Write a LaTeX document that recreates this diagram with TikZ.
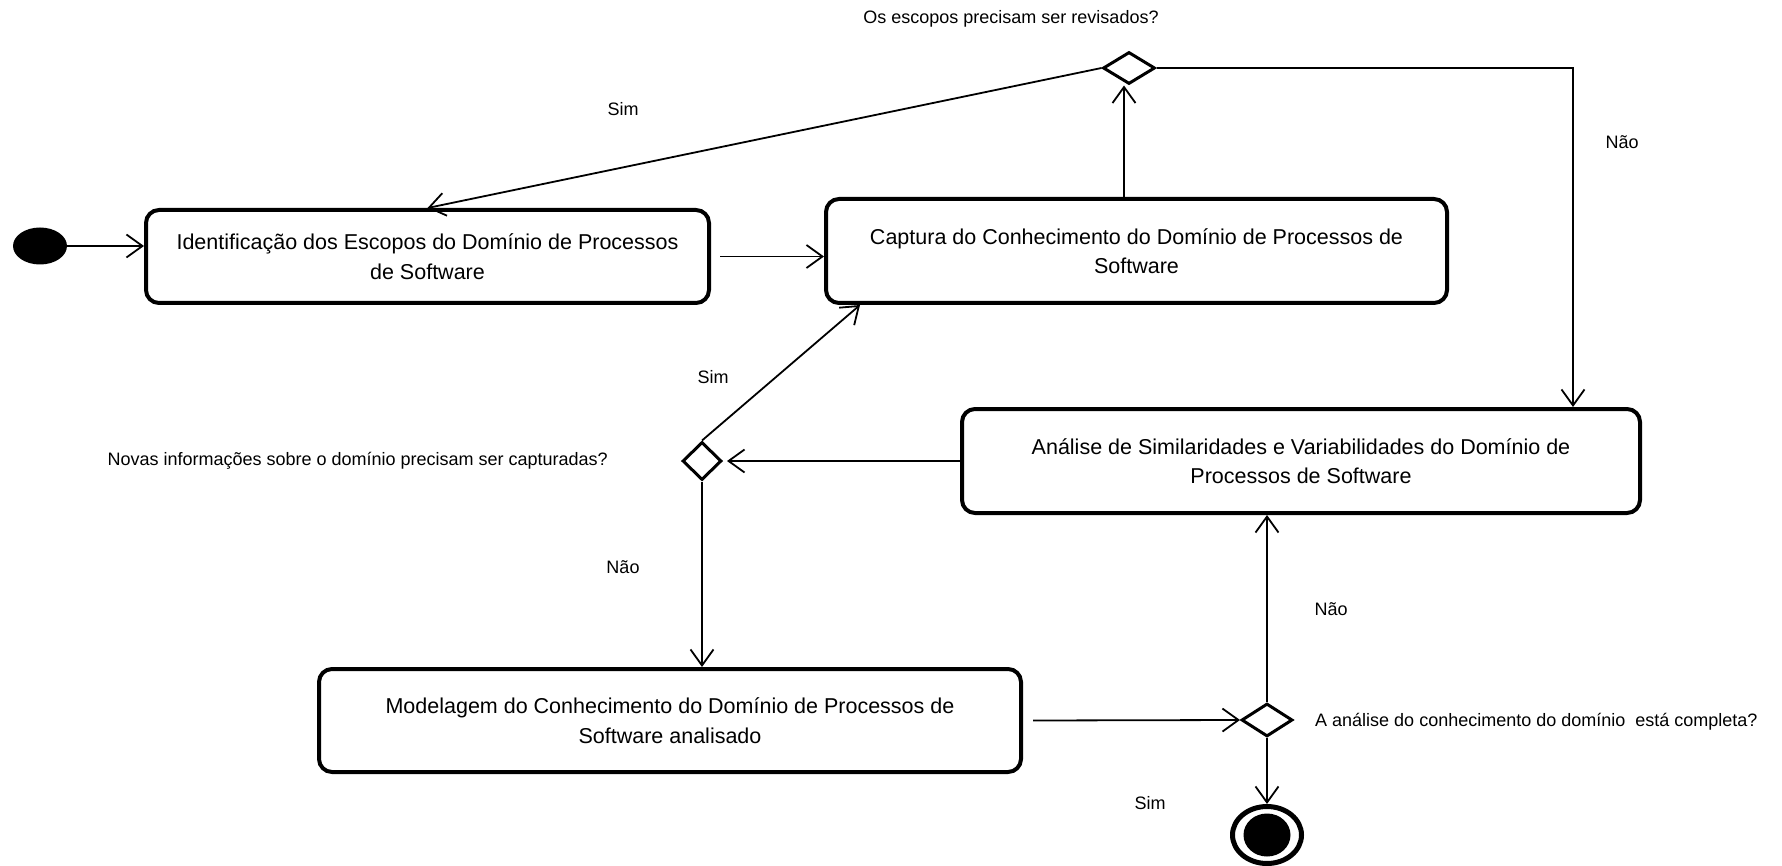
\documentclass[tikz,border=0pt]{standalone}
\usepackage{fontspec}
\setmainfont{Liberation Sans}
\usetikzlibrary{arrows.meta,shapes.geometric}

\begin{document}
\begin{tikzpicture}[x=1pt,y=-1pt,
  activity/.style={draw, line width=4pt, rounded corners=13pt, align=center,
    font=\fontsize{21.5}{29.5}\selectfont, inner sep=0pt},
  decision/.style={draw, diamond, line width=3pt, inner sep=0pt},
  flow/.style={line width=1.8pt, -{Straight Barb[length=16pt,width=23pt,line width=1.8pt]}},
  guard/.style={font=\fontsize{18}{22}\selectfont, inner sep=0pt},
]
\useasboundingbox (0,0) rectangle (1782,866);

% activities
\node[activity, minimum width=563pt, minimum height=93pt] (scope) at (427.5,256.5)
  {Identificação dos Escopos do Domínio de Processos\\de Software};
\node[activity, minimum width=621pt, minimum height=104pt] (capture) at (1136.5,251)
  {Captura do Conhecimento do Domínio de Processos de\\Software};
\node[activity, minimum width=678pt, minimum height=104pt] (analysis) at (1301,461)
  {Análise de Similaridades e Variabilidades do Domínio de\\Processos de Software};
\node[activity, minimum width=702pt, minimum height=103pt] (model) at (670,720.5)
  {Modelagem do Conhecimento do Domínio de Processos de\\Software analisado};

% decisions
\node[decision, minimum width=52pt, minimum height=32pt] (dscope) at (1129,68) {};
\node[decision, minimum width=39pt, minimum height=38pt] (dcapture) at (702,461) {};
\node[decision, minimum width=51pt, minimum height=33pt] (ddone) at (1267,720) {};

% initial and final states
\node[ellipse, fill=black, minimum width=54pt, minimum height=37pt, inner sep=0pt] (start) at (40,246) {};
\node[ellipse, draw, line width=5pt, minimum width=69pt, minimum height=57pt, inner sep=0pt] (stop) at (1267,835) {};
\fill (stop.center) ellipse [x radius=23.5pt, y radius=21.5pt];

% transitions
\coordinate (nobend) at (1573,68);
\draw[flow] (start.east) -- (scope.west |- start.east);
\draw[flow] ([xshift=9pt]scope.east) -- (capture.west |- scope.east);
\draw[flow] ([xshift=-5pt]capture.north -| dscope.south) -- ([xshift=-5pt]dscope.south);
\draw[flow] (dscope.west) -- (scope.north);
\draw[flow] (dscope.east) -- (nobend) -- (nobend |- analysis.north);
\draw[flow, shorten >=4pt] (analysis.west) -- (dcapture.east);
\draw[flow] (dcapture.north) -- ([xshift=36pt]capture.south west);
\draw[flow] (dcapture.south) -- (dcapture.south |- model.north);
\draw[flow] ([xshift=10pt]model.east) -- (ddone.west);
\draw[flow] (ddone.north) -- (ddone.north |- analysis.south);
\draw[flow] (ddone.south) -- (stop.north);

% guards and questions
\node[guard] (qscope) at (1011,19) {Os escopos precisam ser revisados?};
\node[guard] (yes1) at (623,109) {Sim};
\node[guard] (no1) at (1622,142) {Não};
\node[guard] (yes2) at (713,377) {Sim};
\node[guard, anchor=east] (qcapture) at (608,461) {Novas informações sobre o domínio precisam ser capturadas?};
\node[guard] (no2) at (623,567) {Não};
\node[guard] (no3) at (1331,609) {Não};
\node[guard, anchor=west] (qdone) at (1315,722) {A análise do conhecimento do domínio\ \ está completa?};
\node[guard] (yes3) at (1150,803) {Sim};
\end{tikzpicture}
\end{document}
